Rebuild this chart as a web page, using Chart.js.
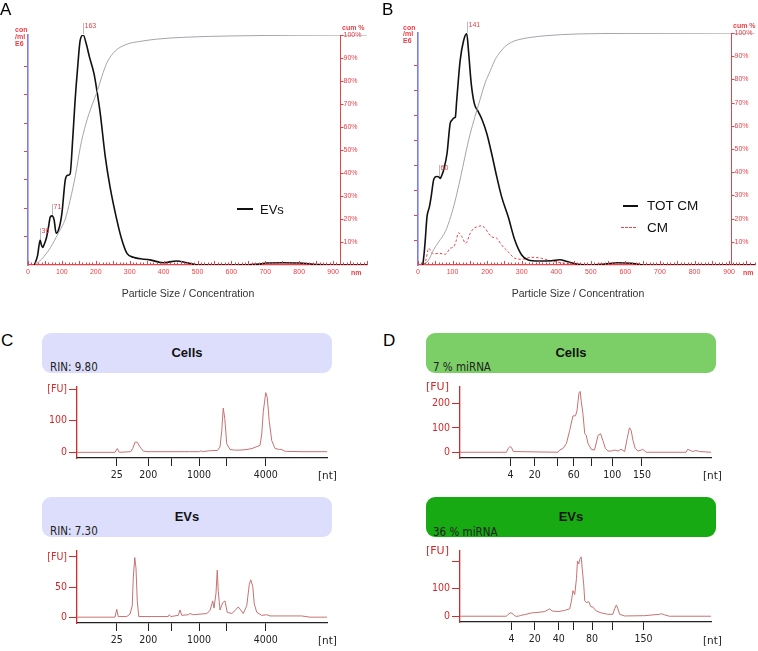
<!DOCTYPE html>
<html>
<head>
<meta charset="utf-8">
<script src="https://cdn.jsdelivr.net/npm/chart.js@4.4.0/dist/chart.umd.min.js"></script>
<style>
body { margin:0; background:#fff; }
#page { position:relative; width:758px; height:651px; overflow:hidden; font-family:"Liberation Sans", Arial, sans-serif; }
canvas { position:absolute; }
.t { position:absolute; white-space:nowrap; line-height:1; }
.box { position:absolute; border-radius:9px; }
.red { color:#e8424a; font-weight:bold; font-size:7px; }
.cond { font-family:"DejaVu Sans Condensed", "DejaVu Sans", sans-serif; color:#222; font-size:11.5px; }
.fu { font-family:"DejaVu Sans", sans-serif; color:#d42a2a; font-size:11px; }
.nt { font-family:"DejaVu Sans", sans-serif; color:#222; font-size:10.5px; }
.title { font-weight:bold; font-size:13px; color:#111; left:0; right:0; text-align:center; top:13px; }
</style>
</head>
<body>
<div id="page">
  <canvas id="ntaA" width="378" height="292" style="left:0;top:18px"></canvas>
  <canvas id="ntaB" width="380" height="292" style="left:378px;top:18px"></canvas>

  <div class="t" style="left:0;top:0.5px;font-size:17px">A</div>
  <div class="t" style="left:382px;top:0.5px;font-size:17px">B</div>
  <div class="t" style="left:1px;top:331.5px;font-size:17px">C</div>
  <div class="t" style="left:383px;top:331.5px;font-size:17px">D</div>

  <div class="t red" style="left:15px;top:27px;line-height:6.8px">con<br>/ml<br>E6</div>
  <div class="t red" style="left:403px;top:25px;line-height:6.3px">con<br>/ml<br>E6</div>
  <div class="t red" style="left:342px;top:23.5px">cum %</div>
  <div class="t red" style="left:733px;top:22px">cum %</div>
  <div class="t red" style="left:351px;top:269px">nm</div>
  <div class="t red" style="left:743px;top:268.5px">nm</div>

  <div class="t" style="left:237px;top:208px;width:16px;height:2px;background:#111"></div>
  <div class="t" style="left:260px;top:202.5px;font-size:13px;color:#111">EVs</div>
  <div class="t" style="left:623px;top:205px;width:15px;height:2px;background:#111"></div>
  <div class="t" style="left:647px;top:198.8px;font-size:13.5px;color:#111">TOT CM</div>
  <div class="t" style="left:621px;top:227px;width:15px;border-top:1px dashed #e8424a"></div>
  <div class="t" style="left:647px;top:221px;font-size:13.5px;color:#111">CM</div>

  <div class="t" style="left:88px;width:200px;text-align:center;top:288px;font-size:10.5px;color:#333">Particle Size / Concentration</div>
  <div class="t" style="left:478px;width:200px;text-align:center;top:288px;font-size:10.5px;color:#333">Particle Size / Concentration</div>

  <div class="box" style="left:42px;top:333px;width:290px;height:40px;background:#dcdefb"><div class="t title">Cells</div></div>
  <div class="box" style="left:42px;top:497px;width:290px;height:40px;background:#dcdefb"><div class="t title">EVs</div></div>
  <div class="box" style="left:426px;top:333px;width:290px;height:40px;background:#7ccf67"><div class="t title">Cells</div></div>
  <div class="box" style="left:426px;top:497px;width:290px;height:40px;background:#18aa12"><div class="t title">EVs</div></div>

  <div class="t cond" style="left:50px;top:361.5px">RIN: 9.80</div>
  <div class="t cond" style="left:50px;top:525.5px">RIN: 7.30</div>
  <div class="t cond" style="left:433px;top:362px">7 % miRNA</div>
  <div class="t cond" style="left:433px;top:526.5px">36 % miRNA</div>

  <canvas id="cCells" width="378" height="106" style="left:0;top:378px"></canvas>
  <canvas id="cEvs" width="378" height="106" style="left:0;top:542px"></canvas>
  <canvas id="dCells" width="380" height="106" style="left:378px;top:378px"></canvas>
  <canvas id="dEvs" width="380" height="106" style="left:378px;top:542px"></canvas>

  <div class="t fu" style="left:426px;top:380.5px">[FU]</div>
  <div class="t fu" style="left:426px;top:544.5px">[FU]</div>
  <div class="t nt" style="left:318px;top:469.5px">[nt]</div>
  <div class="t nt" style="left:318px;top:634.5px">[nt]</div>
  <div class="t nt" style="left:703px;top:469.5px">[nt]</div>
  <div class="t nt" style="left:703px;top:634.5px">[nt]</div>
</div>

<script>
// ---- A: EVs, particle size (nm) vs concentration (E6/ml) ----
var sizeA = [19, 28, 36, 39, 43, 48, 54, 60, 66, 71, 77, 83, 90, 100, 110, 117, 124, 132, 139, 146, 154, 163, 172, 181, 195, 203, 213, 228, 242, 262, 277, 292, 311, 360, 399, 438, 468, 498, 600, 684, 703, 752, 800, 850, 880, 1000];
var concA = [0, 0.32, 0.88, 0.73, 0.62, 0.73, 0.94, 1.30, 1.70, 1.73, 1.59, 1.12, 1.23, 1.82, 3.00, 3.16, 3.20, 4.46, 5.81, 6.89, 7.92, 8.10, 7.78, 7.34, 6.72, 6.16, 5.35, 3.81, 2.75, 1.59, 0.88, 0.41, 0.27, 0.18, 0.08, 0.14, 0.08, 0.01, 0, 0.03, 0.07, 0.08, 0.07, 0.02, 0, 0];
var cumSizeA = [20, 40, 66, 90, 110, 124, 140, 154, 170, 190, 203, 218, 233, 257, 292, 330, 380, 458, 605, 800, 1000];
var cumA = [0, 2.5, 7.5, 14, 20, 28, 39, 51, 61, 70, 75, 82, 88, 93, 96, 97.2, 98.2, 99, 99.6, 99.9, 100];
var peaksA = [36, 71, 163];
var concTicksA = [1, 2, 3, 4, 5, 6, 7];

// ---- B: TOT CM and CM ----
var sizeB = [14, 18, 21, 26, 33, 38, 45, 50, 55, 60, 64, 69, 74, 84, 93, 98, 105, 108, 112, 122, 132, 141, 146, 154, 163, 175, 186, 199, 213, 228, 242, 261, 280, 300, 319, 348, 386, 410, 434, 463, 500, 540, 578, 617, 655, 975];
var concB = [0, 0.5, 1.0, 1.93, 2.33, 2.73, 3.4, 3.53, 3.55, 3.53, 3.47, 3.6, 3.8, 4.47, 5.67, 5.8, 5.9, 5.93, 6.6, 8.2, 9.0, 9.27, 8.6, 7.27, 6.47, 6.13, 5.8, 5.27, 4.47, 3.53, 2.73, 1.93, 1.0, 0.4, 0.2, 0.16, 0.17, 0.21, 0.13, 0.03, 0, 0.04, 0.09, 0.07, 0, 0];
var cmSizeB = [16, 22, 31, 40, 50, 60, 79, 93, 103, 110, 117, 127, 138, 151, 160, 170, 184, 194, 205, 213, 228, 242, 261, 280, 300, 328, 357, 386, 425, 463];
var cmB = [0, 0.15, 0.67, 0.49, 0.45, 0.47, 0.43, 0.67, 0.73, 0.95, 1.29, 1.13, 0.87, 1.27, 1.45, 1.53, 1.57, 1.47, 1.25, 1.13, 1.07, 0.8, 0.53, 0.27, 0.23, 0.31, 0.27, 0.16, 0.07, 0];
var cumSizeB = [16, 30, 45, 60, 79, 95, 108, 122, 136, 150, 165, 180, 194, 210, 223, 238, 252, 270, 290, 330, 367, 463, 600, 975];
var cumB = [0, 2, 6.5, 10, 14.4, 21, 28, 37, 46.8, 56, 64, 71.5, 78.4, 84, 88.5, 91.8, 94.2, 96, 97.1, 98.2, 98.8, 99.6, 99.8, 100];
var peaksB = [60, 141];
var concTicksB = [1, 2, 3, 4, 5, 6, 7, 8];

var cumTicks = [10, 20, 30, 40, 50, 60, 70, 80, 90, 100];

// ---- C: Bioanalyzer RNA traces (migration position 0-100, FU) ----
var cCellsPos = [0, 15.2, 16.1, 16.9, 21.5, 22.3, 23.2, 24.1, 25.2, 26.5, 28, 45, 49.0, 49.6, 50.2, 53, 56.2, 57.2, 57.9, 58.5, 59.1, 59.9, 61.2, 63, 65.2, 68, 70, 73.2, 73.9, 74.5, 75.5, 76.1, 76.9, 77.9, 79.2, 81.0, 81.9, 83.0, 83.9, 90, 100];
var cCellsFu = [0, 0, 12, 0, 2, 12, 32, 32, 17, 4, 2, 2, 2, 5, 2, 5, 6, 17, 68, 140, 108, 27, 9, 7, 7, 9, 12, 22, 58, 128, 189, 174, 98, 37, 12, 9, 9, 4, 3, 2, 2];
var cEvsPos = [0, 15.2, 15.9, 16.5, 19.9, 21.2, 22.1, 22.5, 23.1, 23.6, 24.1, 24.7, 36.5, 36.9, 37.5, 40.5, 41.2, 41.9, 44.5, 45.2, 46.5, 49.2, 51.9, 53.2, 54.3, 54.8, 55.6, 56.1, 56.5, 57.2, 58.3, 59.2, 60.1, 61.9, 63.2, 64.5, 65.5, 66.5, 67.9, 68.9, 69.5, 70.3, 70.9, 71.9, 73.9, 75.9, 77.2, 85.2, 89.9, 93.2, 100];
var cEvsFu = [0, 0, 13, 1, 1, 5, 19, 65, 99, 81, 27, 1, 1, 4, 1, 3, 12, 3, 4, 6, 4, 5, 6, 11, 27, 15, 40, 78, 43, 12, 24, 27, 8, 6, 11, 17, 12, 6, 19, 54, 62, 51, 22, 8, 3, 4, 2, 2, 2, 0, 0];
var cXTicks = [15.9, 28.5, 37.6, 48.8, 59.9, 75.5];
var cXLabels = ['25', '200', '', '1000', '', '4000'];
var cCellsYTicks = [0, 100, 200];
var cCellsYLabels = ['0', '100', '[FU]'];
var cEvsYTicks = [0, 50, 100];
var cEvsYLabels = ['0', '50', '[FU]'];

// ---- D: Bioanalyzer small RNA traces ----
var dCellsPos = [0, 18.5, 19.2, 19.9, 20.5, 21.2, 39.0, 39.7, 41.1, 42.4, 43.7, 45.0, 46.0, 46.6, 47.4, 47.9, 48.3, 49.0, 49.7, 50.3, 51.0, 52.3, 53.6, 55.0, 56.0, 56.9, 57.9, 58.9, 60.3, 61.6, 62.9, 64.2, 65.6, 66.6, 67.5, 68.2, 68.9, 69.8, 70.9, 72.2, 72.8, 74.2, 90.1, 90.7, 91.4, 92.7, 94.0, 95.4, 100];
var dCellsFu = [0, 0, 16, 23, 20, 3, 0, 9, 16, 36, 89, 149, 149, 169, 243, 249, 209, 156, 76, 69, 36, 12, 9, 69, 76, 49, 16, 5, 5, 9, 5, 12, 3, 56, 100, 89, 49, 16, 5, 9, 12, 0, 0, 12, 9, 3, 7, 3, 0];
var dEvsPos = [0, 18.5, 19.2, 20.3, 21.2, 22.1, 23.2, 24.2, 25.8, 28.5, 31.1, 33.8, 35.1, 35.8, 36.7, 39.1, 41.7, 43.7, 44.4, 45.0, 45.7, 46.4, 46.8, 47.3, 47.7, 48.3, 48.7, 49.3, 49.7, 50.3, 51.3, 52.1, 53.0, 54.3, 56.3, 58.9, 60.9, 61.6, 62.3, 62.9, 63.6, 65.6, 73.5, 79.5, 80.4, 81.5, 83.4, 100];
var dEvsFu = [0, 0, 7, 13, 7, 0, 0, 3, 6, 12, 14, 17, 24, 27, 19, 17, 21, 27, 56, 93, 79, 137, 201, 190, 207, 216, 172, 114, 56, 50, 53, 35, 33, 19, 12, 7, 7, 27, 41, 27, 7, 1, 2, 7, 9, 5, 0, 0];
var dCellsXTicks = [20.1, 29.8, 38.8, 45.3, 52.3, 60.7, 72.5];
var dCellsXLabels = ['4', '20', '', '60', '', '100', '150'];
var dEvsXTicks = [20.5, 29.8, 39.3, 45.3, 52.6, 60.7, 73.1];
var dEvsXLabels = ['4', '20', '40', '', '80', '', '150'];
var dCellsYTicks = [0, 100, 200];
var dCellsYLabels = ['0', '100', '200'];
var dEvsYTicks = [0, 100, 200];
var dEvsYLabels = ['0', '100', ''];

var RED = '#e8424a';
var AXRED = '#d42a2a';
var COND = "'DejaVu Sans Condensed', 'DejaVu Sans'";

Chart.defaults.font.family = "'Liberation Sans', Arial";

function pts(xs, ys){
	return xs.map(function(x, i){ return {x: x, y: ys[i]}; });
}

function valueAt(xs, ys, x){
	for (var i = 1; i < xs.length; i++){
		if (x <= xs[i]){
			var f = (x - xs[i-1]) / (xs[i] - xs[i-1]);
			return ys[i-1] + f * (ys[i] - ys[i-1]);
		}
	}
	return ys[ys.length - 1];
}

// red cumulative axis drawn inside the plot, plus small inward x ticks
var cumAxis = {
	id: 'cumAxis',
	afterDraw: function(chart, args, opts){
		var ctx = chart.ctx, area = chart.chartArea, sx = chart.scales.x, sy = chart.scales.yc;
		var x = Math.round(sx.getPixelForValue(opts.at)) + 0.5;
		ctx.save();
		ctx.strokeStyle = RED; ctx.fillStyle = RED; ctx.lineWidth = 1;
		ctx.beginPath();
		sx.ticks.forEach(function(t){
			var tx = Math.round(sx.getPixelForValue(t.value)) + 0.5;
			ctx.moveTo(tx, area.bottom);
			ctx.lineTo(tx, area.bottom - (t.value % 50 === 0 ? 4 : 2.5));
		});
		ctx.moveTo(x, area.top); ctx.lineTo(x, area.bottom);
		ctx.stroke();
		ctx.font = '7px "Liberation Sans"';
		ctx.textBaseline = 'middle';
		cumTicks.forEach(function(p){
			var y = Math.round(sy.getPixelForValue(p)) + 0.5;
			ctx.beginPath(); ctx.moveTo(x, y); ctx.lineTo(x + 3, y); ctx.stroke();
			ctx.fillText(p + '%', x + 3, y);
		});
		ctx.restore();
	}
};

// grey marker lines with the peak size above each peak
var peakMarks = {
	id: 'peakMarks',
	afterDatasetsDraw: function(chart, args, opts){
		var ctx = chart.ctx, sx = chart.scales.x, sy = chart.scales.y;
		ctx.save();
		ctx.strokeStyle = '#bbbbbb'; ctx.fillStyle = RED; ctx.lineWidth = 1;
		ctx.font = '7px "Liberation Sans"'; ctx.textBaseline = 'middle';
		opts.peaks.forEach(function(p){
			var px = Math.round(sx.getPixelForValue(p)) + 0.5;
			var py = sy.getPixelForValue(valueAt(opts.xs, opts.ys, p));
			ctx.beginPath(); ctx.moveTo(px, py - 1); ctx.lineTo(px, py - 12); ctx.stroke();
			ctx.fillText(String(p), px + 1, py - 8.5);
		});
		ctx.restore();
	}
};

function ntaChart(id, o){
	new Chart(document.getElementById(id), {
		type: 'line',
		data: { datasets: [
			{ data: pts(o.cumX, o.cumY), yAxisID: 'yc', borderColor: '#a4a4ac', borderWidth: 1, pointRadius: 0, cubicInterpolationMode: 'monotone' }
		].concat(o.series) },
		options: {
			responsive: false, animation: false, devicePixelRatio: 1,
			layout: { padding: { top: o.padTop, right: o.padRight, left: 0, bottom: 0 } },
			plugins: {
				legend: { display: false }, tooltip: { enabled: false },
				cumAxis: { at: o.rightAt },
				peakMarks: { peaks: o.peaks, xs: o.peakX, ys: o.peakY }
			},
			scales: {
				x: {
					type: 'linear', min: 0, max: o.xMax,
					afterFit: function(s){ s.height = 45; },
					grid: { drawOnChartArea: false, drawTicks: false },
					border: { color: RED, width: 1.2 },
					ticks: { stepSize: 10, autoSkip: false, maxRotation: 0, padding: 3, color: RED, font: { size: 7 },
						callback: function(v){ return (v % 100 === 0 && v < 1000) ? v : ''; } }
				},
				y: {
					min: 0, max: o.yMax,
					afterBuildTicks: function(s){ s.ticks = o.yTicks.map(function(v){ return {value: v}; }); },
					afterFit: function(s){ s.width = o.yWidth; },
					grid: { drawOnChartArea: false, color: RED, tickLength: 4 },
					border: { color: '#7c7cf0', width: 1.6 },
					ticks: { display: false }
				},
				yc: { display: false, min: 0, max: 100 }
			}
		},
		plugins: [cumAxis, peakMarks]
	});
}

function bioChart(id, o){
	new Chart(document.getElementById(id), {
		type: 'line',
		data: { datasets: [
			{ data: pts(o.pos, o.fu), borderColor: '#c77272', borderWidth: 1, pointRadius: 0, tension: 0 }
		] },
		options: {
			responsive: false, animation: false, devicePixelRatio: 1,
			layout: { padding: { top: o.padTop, right: o.padRight, left: 0, bottom: 0 } },
			plugins: { legend: { display: false }, tooltip: { enabled: false } },
			scales: {
				x: {
					type: 'linear', min: 0, max: 100,
					afterBuildTicks: function(s){ s.ticks = o.xTicks.map(function(v){ return {value: v}; }); },
					afterFit: function(s){ s.height = o.xHeight; },
					grid: { drawOnChartArea: false, color: '#222', tickLength: 8 },
					border: { color: '#222', width: 1.3 },
					ticks: { autoSkip: false, maxRotation: 0, padding: 3, color: '#222', font: { size: 10.5, family: COND },
						callback: function(v, i){ return o.xLabels[i]; } }
				},
				y: {
					min: o.yMin, max: o.yMax,
					afterBuildTicks: function(s){ s.ticks = o.yTicks.map(function(v){ return {value: v}; }); },
					afterFit: function(s){ s.width = o.yWidth; },
					grid: { drawOnChartArea: false, color: AXRED, tickLength: 8 },
					border: { color: AXRED, width: 1.3 },
					ticks: { padding: 2, color: AXRED, font: { size: 10.5, family: COND },
						callback: function(v, i){ return o.yLabels[i]; } }
				}
			}
		}
	});
}

ntaChart('ntaA', {
	cumX: cumSizeA, cumY: cumA,
	series: [
		{ data: pts(sizeA, concA), borderColor: '#111', borderWidth: 1.6, pointRadius: 0, cubicInterpolationMode: 'monotone' }
	],
	peaks: peaksA, peakX: sizeA, peakY: concA,
	yMax: 8.1, yTicks: concTicksA, xMax: 1000, rightAt: 920,
	yWidth: 28, padTop: 17, padRight: 11
});

ntaChart('ntaB', {
	cumX: cumSizeB, cumY: cumB,
	series: [
		{ data: pts(sizeB, concB), borderColor: '#111', borderWidth: 1.6, pointRadius: 0, cubicInterpolationMode: 'monotone' },
		{ data: pts(cmSizeB, cmB), borderColor: RED, borderWidth: 1, borderDash: [2.5, 2], pointRadius: 0, cubicInterpolationMode: 'monotone' }
	],
	peaks: peaksB, peakX: sizeB, peakY: concB,
	yMax: 9.3, yTicks: concTicksB, xMax: 975, rightAt: 905,
	yWidth: 40, padTop: 15, padRight: 2
});

bioChart('cCells', { pos: cCellsPos, fu: cCellsFu, xTicks: cXTicks, xLabels: cXLabels, yTicks: cCellsYTicks, yLabels: cCellsYLabels,
	yMin: -18, yMax: 209, yWidth: 77, padTop: 5, padRight: 51, xHeight: 26 });
bioChart('cEvs', { pos: cEvsPos, fu: cEvsFu, xTicks: cXTicks, xLabels: cXLabels, yTicks: cEvsYTicks, yLabels: cEvsYLabels,
	yMin: -9.7, yMax: 111, yWidth: 77, padTop: 6, padRight: 51, xHeight: 25 });
bioChart('dCells', { pos: dCellsPos, fu: dCellsFu, xTicks: dCellsXTicks, xLabels: dCellsXLabels, yTicks: dCellsYTicks, yLabels: dCellsYLabels,
	yMin: -23.5, yMax: 270, yWidth: 82, padTop: 5, padRight: 47, xHeight: 26 });
bioChart('dEvs', { pos: dEvsPos, fu: dEvsFu, xTicks: dEvsXTicks, xLabels: dEvsXLabels, yTicks: dEvsYTicks, yLabels: dEvsYLabels,
	yMin: -21, yMax: 240, yWidth: 82, padTop: 5, padRight: 47, xHeight: 26 });
</script>
</body>
</html>
